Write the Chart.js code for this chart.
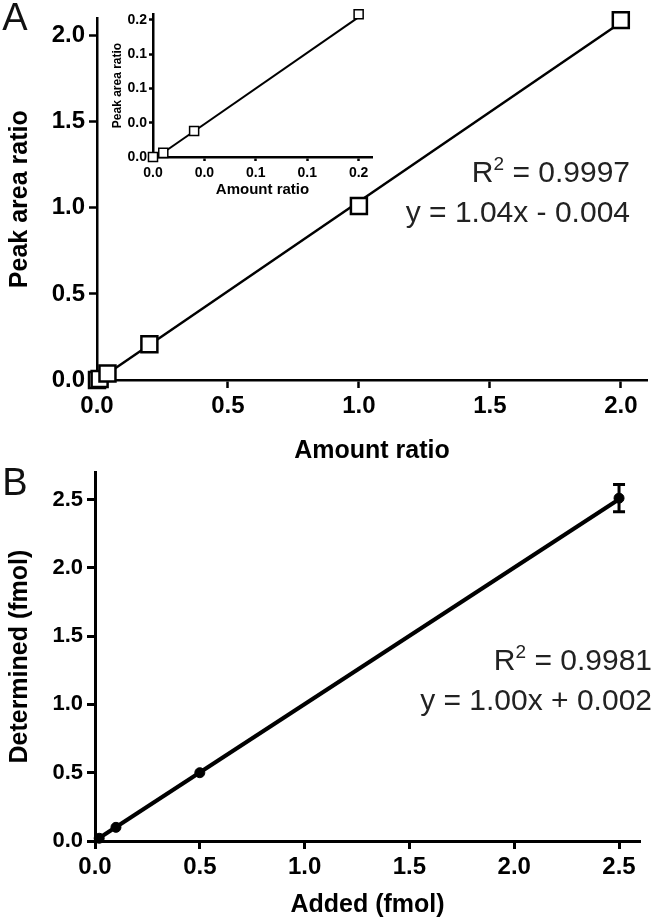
<!DOCTYPE html>
<html>
<head>
<meta charset="utf-8">
<script src="https://cdn.jsdelivr.net/npm/chart.js@4.4.1/dist/chart.umd.min.js"></script>
<style>
  html, body { margin: 0; padding: 0; background: #fff; }
  body { width: 662px; height: 924px; position: relative; overflow: hidden; }
  .box { position: absolute; }
</style>
</head>
<body>
<div class="box" style="left:0;top:0;width:662px;height:470px"><canvas id="chartA"></canvas></div>
<div class="box" style="left:100px;top:0;width:290px;height:210px"><canvas id="chartInset"></canvas></div>
<div class="box" style="left:0;top:455px;width:662px;height:469px"><canvas id="chartB"></canvas></div>
<script>
// Panel A: peak area ratio vs amount ratio
const amountRatio = [0, 0.01, 0.04, 0.2, 1.0, 2.0];
const peakAreaRatio = [0, 0.006, 0.038, 0.208, 1.01, 2.09];
const fitAX = [0, 2.0];
const fitAY = [-0.004, 2.076];
const ticksA = [0, 0.5, 1.0, 1.5, 2.0];
const labelsA = ['0.0', '0.5', '1.0', '1.5', '2.0'];

// Inset of panel A (low end of the curve)
const insetFitX = [0, 0.2];
const insetFitY = [-0.004, 0.204];
const ticksInset = [0, 0.05, 0.1, 0.15, 0.2];
const labelsInset = ['0.0', '0.0', '0.1', '0.1', '0.2'];

// Panel B: determined vs added (fmol), SD on last point
const addedFmol = [0.02, 0.1, 0.5, 2.5];
const determinedFmol = [0.02, 0.1, 0.5, 2.51];
const determinedSd = [0, 0, 0, 0.1];
const fitBX = [0, 2.5];
const fitBY = [0.002, 2.502];
const ticksB = [0, 0.5, 1.0, 1.5, 2.0, 2.5];
const labelsB = ['0.0', '0.5', '1.0', '1.5', '2.0', '2.5'];

const SANS = '"Liberation Sans", Arial, sans-serif';

Chart.defaults.font.family = SANS;
Chart.defaults.color = '#000';

const pts = (xs, ys) => xs.map((x, i) => ({ x, y: ys[i] }));

function axis(min, max, ticks, labels, o) {
  return {
    type: 'linear',
    min, max,
    afterBuildTicks: s => { s.ticks = ticks.map(v => ({ value: v })); },
    afterFit: s => {
      if (o.width != null) s.width = o.width;
      if (o.height != null) s.height = o.height;
    },
    ticks: {
      autoSkip: false, maxRotation: 0, padding: o.pad, color: '#000',
      font: { family: SANS, size: o.tickSize, weight: 'bold' },
      callback: (v, i) => labels[i]
    },
    grid: {
      drawOnChartArea: false, drawTicks: true,
      tickLength: o.tickLen, tickWidth: o.lw, tickColor: '#000'
    },
    border: { display: true, color: '#000', width: o.lw },
    title: {
      display: true, text: o.title, color: '#000',
      font: { family: SANS, size: o.titleSize, weight: 'bold' },
      padding: o.titlePad
    }
  };
}

// draws "R² = ..." and the fit equation, right aligned
function drawFitText(ctx, right, base1, base2, r2, eq) {
  ctx.save();
  ctx.fillStyle = '#222';
  ctx.textAlign = 'right';
  ctx.textBaseline = 'alphabetic';
  ctx.font = '30px ' + SANS;
  const rest = ' = ' + r2;
  ctx.fillText(rest, right, base1);
  const w = ctx.measureText(rest).width;
  ctx.font = '19px ' + SANS;
  ctx.fillText('2', right - w, base1 - 12);
  const w2 = ctx.measureText('2').width;
  ctx.font = '30px ' + SANS;
  ctx.fillText('R', right - w - w2, base1);
  ctx.fillText(eq, right, base2);
  ctx.restore();
}

function panelLetter(ctx, letter, x, y) {
  ctx.save();
  ctx.fillStyle = '#111';
  ctx.font = '38px ' + SANS;
  ctx.textAlign = 'center';
  ctx.textBaseline = 'middle';
  ctx.fillText(letter, x, y);
  ctx.restore();
}

const common = {
  responsive: true,
  maintainAspectRatio: false,
  animation: false,
  devicePixelRatio: 1,
  plugins: { legend: { display: false }, tooltip: { enabled: false } }
};

// ---- Panel A
new Chart(document.getElementById('chartA'), {
  type: 'scatter',
  data: {
    datasets: [{
      data: pts(amountRatio, peakAreaRatio),
      pointStyle: 'rect', pointRadius: 11.3, clip: 14,
      borderColor: '#000', backgroundColor: '#fff', pointBorderWidth: 2.5
    }, {
      data: pts(fitAX, fitAY),
      showLine: true, pointRadius: 0, clip: 4, borderColor: '#000', borderWidth: 2.5
    }]
  },
  options: {
    ...common,
    layout: { padding: { top: 18, right: 15, left: 0, bottom: 0 } },
    scales: {
      x: axis(0, 2.1, ticksA, labelsA, { height: 90, pad: 4, tickSize: 24, tickLen: 8, lw: 2.5, title: 'Amount ratio', titleSize: 25, titlePad: { top: 0, bottom: 4 } }),
      y: axis(0, 2.1, ticksA, labelsA, { width: 97, pad: 4, tickSize: 24, tickLen: 8, lw: 2.5, title: 'Peak area ratio', titleSize: 25, titlePad: { top: 5, bottom: 0 } })
    }
  },
  plugins: [{
    id: 'textA',
    afterDraw(chart) {
      panelLetter(chart.ctx, 'A', 15, 20);
      drawFitText(chart.ctx, 630, 182, 222, '0.9997', 'y = 1.04x - 0.004');
    }
  }]
});

// ---- Inset
new Chart(document.getElementById('chartInset'), {
  type: 'scatter',
  data: {
    datasets: [{
      data: pts(amountRatio, peakAreaRatio),
      pointStyle: 'rect', pointRadius: 6.4, clip: 8,
      borderColor: '#000', backgroundColor: '#fff', pointBorderWidth: 1.5
    }, {
      data: pts(insetFitX, insetFitY),
      showLine: true, pointRadius: 0, clip: 4, borderColor: '#000', borderWidth: 2
    }]
  },
  options: {
    ...common,
    layout: { padding: { top: 14, right: 18, left: 0, bottom: 0 } },
    scales: {
      x: axis(0, 0.213, ticksInset, labelsInset, { height: 53, pad: 4, tickSize: 14, tickLen: 4, lw: 2.5, title: 'Amount ratio', titleSize: 15, titlePad: { top: 0, bottom: 11 } }),
      y: axis(0, 0.2085, ticksInset, labelsInset, { width: 53, pad: 2, tickSize: 14, tickLen: 4, lw: 2.5, title: 'Peak area ratio', titleSize: 12, titlePad: { top: 10, bottom: 0 } })
    }
  }
});

// ---- Panel B
new Chart(document.getElementById('chartB'), {
  type: 'scatter',
  data: {
    datasets: [{
      data: pts(addedFmol, determinedFmol),
      pointStyle: 'circle', pointRadius: 5, clip: 8,
      borderColor: '#000', backgroundColor: '#000', pointBorderWidth: 1
    }, {
      data: pts(fitBX, fitBY),
      showLine: true, pointRadius: 0, clip: 4, borderColor: '#000', borderWidth: 4
    }]
  },
  options: {
    ...common,
    layout: { padding: { top: 11, right: 22, left: 0, bottom: 0 } },
    scales: {
      x: axis(0, 2.6, ticksB, labelsB, { height: 83, pad: 4, tickSize: 24, tickLen: 8, lw: 3, title: 'Added (fmol)', titleSize: 25, titlePad: { top: 0, bottom: 4 } }),
      y: axis(0, 2.7, ticksB, labelsB, { width: 95, pad: 4, tickSize: 22, tickLen: 8, lw: 3, title: 'Determined (fmol)', titleSize: 25, titlePad: { top: 5, bottom: 0 } })
    }
  },
  plugins: [{
    id: 'errorBarsAndText',
    afterDatasetsDraw(chart) {
      const { ctx, scales: { x, y } } = chart;
      ctx.save();
      ctx.strokeStyle = '#000';
      ctx.lineWidth = 3;
      determinedSd.forEach((sd, i) => {
        if (!sd) return;
        const px = x.getPixelForValue(addedFmol[i]);
        const top = y.getPixelForValue(determinedFmol[i] + sd);
        const bot = y.getPixelForValue(determinedFmol[i] - sd);
        ctx.beginPath();
        ctx.moveTo(px, top); ctx.lineTo(px, bot);
        ctx.moveTo(px - 6, top); ctx.lineTo(px + 6, top);
        ctx.moveTo(px - 6, bot); ctx.lineTo(px + 6, bot);
        ctx.stroke();
      });
      ctx.restore();
    },
    afterDraw(chart) {
      panelLetter(chart.ctx, 'B', 15, 30);
      drawFitText(chart.ctx, 652, 215, 255, '0.9981', 'y = 1.00x + 0.002');
    }
  }]
});
</script>
</body>
</html>
